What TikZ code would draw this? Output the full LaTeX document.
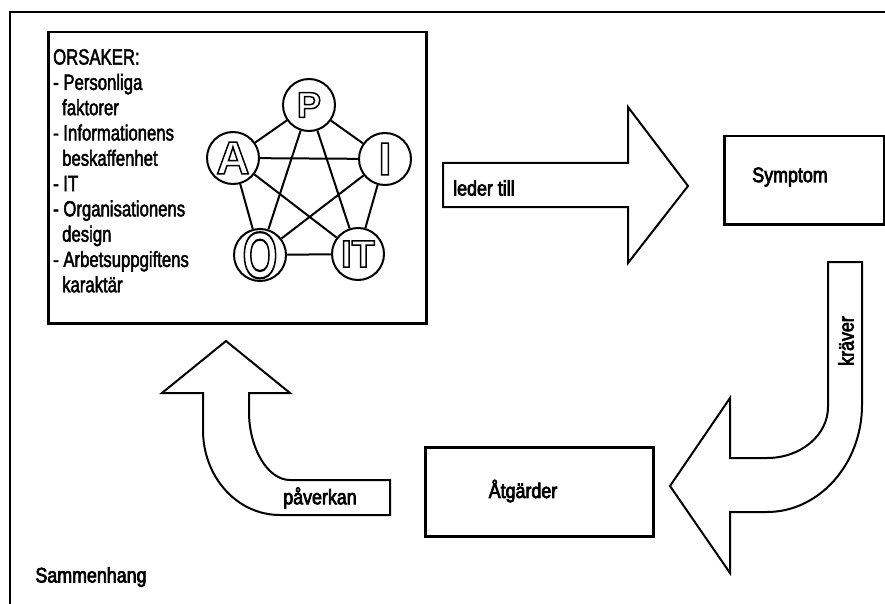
\documentclass[tikz,border=0pt]{standalone}
\usepackage{fontspec}
\setmainfont{Liberation Sans}
\newfontfamily\lstfont{Liberation Sans}[FakeStretch=0.76]
\newfontfamily\labfont{Liberation Sans}[FakeStretch=0.85]
\newfontfamily\letfont{Liberation Sans}
\newcommand\hollow[1]{\special{pdf:code 1 Tr 1.5 w}#1\special{pdf:code 0 Tr}}
\newcommand\heavy[2]{\special{pdf:code 2 Tr #1 w}#2\special{pdf:code 0 Tr}}
\begin{document}
\begin{tikzpicture}[x=1pt,y=-1pt,line join=miter,
  boxst/.style={draw,line width=2.5pt,inner sep=0pt,anchor=north west},
  arr/.style={draw,line width=2pt,fill=white},
  circ/.style={circle,draw,line width=2pt,fill=white,minimum size=52pt,inner sep=0pt},
  edge/.style={line width=2pt},
  lab/.style={font=\labfont\fontsize{21}{24}\selectfont,inner sep=0pt},
]
\useasboundingbox (0,0) rectangle (885,604);
\fill[white] (0,0) rectangle (885,604);
% outer frame
\draw[line width=2pt] (10,604) -- (10,12) -- (885,12);

% causes box
\node[boxst,minimum width=378pt,minimum height=291pt] (orsak) at (47,31) {};
\node[anchor=north west,align=left,inner sep=0pt,
      font=\lstfont\fontsize{22}{25.3}\selectfont] (list) at (53,49)
 {\heavy{0.45}{ORSAKER:}\\\heavy{0.45}{- Personliga}\\\hspace*{9pt}\heavy{0.45}{faktorer}\\\heavy{0.45}{- Informationens}\\\hspace*{9pt}\heavy{0.45}{beskaffenhet}\\\heavy{0.45}{- IT}\\\heavy{0.45}{- Organisationens}\\\hspace*{9pt}\heavy{0.45}{design}\\\heavy{0.45}{- Arbetsuppgiftens}\\\hspace*{9pt}\heavy{0.45}{karaktär}};

% pentagon
\node[circ,font=\letfont\bfseries\fontsize{36}{36}\selectfont] (P) at (309,105) {\hollow{P}};
\node[circ,font=\letfont\bfseries\fontsize{46}{46}\selectfont] (A) at (233,158) {\hollow{A}};
\node[circ,font=\letfont\bfseries\fontsize{46}{46}\selectfont] (I) at (385,159) {\hollow{I}};
\node[circ,font=\letfont\bfseries\fontsize{45}{45}\selectfont] (O) at (260,255)
  {\smash{\raisebox{-0.5\height}{\scalebox{1}[1.45]{\hollow{O}}}}};
\node[circ,font=\letfont\bfseries\fontsize{38}{38}\selectfont] (IT) at (358,254) {\hollow{IT}};
\foreach \a/\b in {P/A,P/I,P/O,P/IT,A/I,A/O,A/IT,I/O,I/IT,O/IT}
  \draw[edge] (\a) -- (\b);

% leder till arrow
\draw[arr] (443,163) -- (628,163) -- (628,107) -- (688,186) -- (628,263)
  -- (628,207) -- (443,207) -- cycle;
\node[lab,anchor=west] (leder) at (453,188) {\heavy{0.7}{leder till}};

% Symptom
\node[boxst,minimum width=160pt,minimum height=88pt] (symptom) at (723,135) {};
\node[lab] (symtxt) at (790,177) {\heavy{0.7}{Symptom}};

% kräver arrow
\draw[arr] (828,262) -- (862,262) -- (862,405)
  .. controls (862,464) and (819,512) .. (767,512) -- (730,512) -- (730,573)
  -- (670,486) -- (730,398) -- (730,458) -- (767,458)
  .. controls (801,458) and (828,435) .. (828,407) -- cycle;
\node[lab,rotate=90] (kraver) at (846,341) {\heavy{0.7}{kräver}};

% Åtgärder
\node[boxst,minimum width=228pt,minimum height=89pt] (atg) at (424,446) {};
\node[lab] (atgtxt) at (523,491) {\heavy{0.7}{Åtgärder}};

% påverkan arrow
\draw[arr] (226,341) -- (290,393) -- (249,393) -- (249,412)
  .. controls (249,447) and (267,480) .. (290,480) -- (390,480) -- (390,515)
  -- (280,515) .. controls (237,515) and (203,477) .. (203,430)
  -- (203,393) -- (162,393) -- cycle;
\node[lab] (paverkan) at (320,498) {\heavy{0.7}{påverkan}};

% title
\node[lab] (samman) at (91,577) {\heavy{0.7}{Sammenhang}};
\end{tikzpicture}
\end{document}
